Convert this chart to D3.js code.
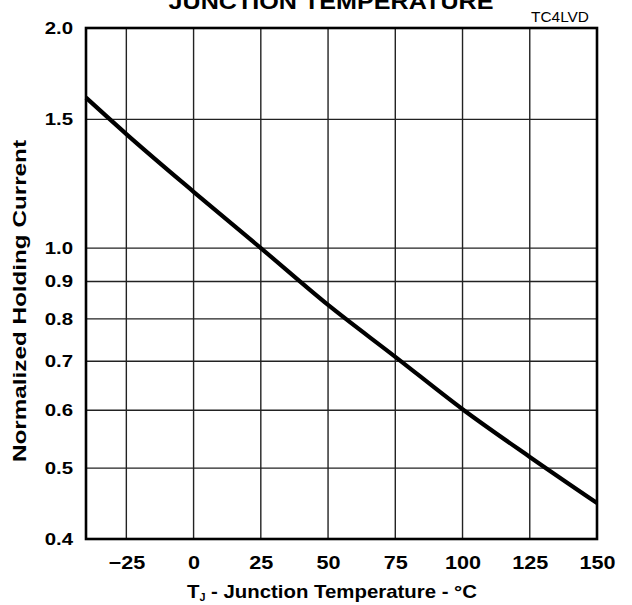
<!DOCTYPE html>
<html>
<head>
  <meta charset="utf-8">
  <title>Holding Current vs Junction Temperature</title>
  <script src="https://d3js.org/d3.v7.min.js"></script>
  <style>
    body { margin: 0; background: #fff; }
    text { font-family: "Liberation Sans", Arial, Helvetica, sans-serif; fill: #000; }
  </style>
</head>
<body>
  <svg id="chart"></svg>
  <script>

    // curve
    const temps = [-40, -25, 0, 25, 50, 75, 100, 125, 150];
    const holding = [1.606, 1.432, 1.194, 1.0, 0.836, 0.71, 0.602, 0.518, 0.448];

    // tick values
    const xTicks = [-25, 0, 25, 50, 75, 100, 125, 150];
    const yTicks = [0.4, 0.5, 0.6, 0.7, 0.8, 0.9, 1.0, 1.5, 2.0];

    const width = 632;
    const height = 605;
    const plotLeft = 86, plotRight = 597, plotTop = 28, plotBottom = 539;

    const svg = d3.select("#chart")
      .attr("width", width)
      .attr("height", height);

    const x = d3.scaleLinear().domain([-40, 150]).range([plotLeft, plotRight]);
    const y = d3.scaleLog().domain([0.4, 2.0]).range([plotBottom, plotTop]);

    // stretch text sideways, the original font is a wide one
    function widen(sel, s) {
      sel.each(function() {
        const w = this.getComputedTextLength();
        d3.select(this).attr("textLength", w * s).attr("lengthAdjust", "spacingAndGlyphs");
      });
    }

    // grid lines
    svg.append("g")
      .selectAll("line")
      .data(xTicks.filter(d => d < 150))
      .join("line")
      .attr("x1", d => x(d)).attr("x2", d => x(d))
      .attr("y1", plotTop).attr("y2", plotBottom)
      .attr("stroke", "#222").attr("stroke-width", 1.4);

    svg.append("g")
      .selectAll("line")
      .data(yTicks.filter(d => d > 0.4 && d < 2.0))
      .join("line")
      .attr("x1", plotLeft).attr("x2", plotRight)
      .attr("y1", d => y(d)).attr("y2", d => y(d))
      .attr("stroke", "#222").attr("stroke-width", 1.4);

    // the curve
    const line = d3.line()
      .x((d, i) => x(temps[i]))
      .y(d => y(d))
      .curve(d3.curveMonotoneX);

    svg.append("path")
      .datum(holding)
      .attr("d", line)
      .attr("fill", "none")
      .attr("stroke", "#000")
      .attr("stroke-width", 4.2);

    // frame
    svg.append("rect")
      .attr("x", plotLeft).attr("y", plotTop)
      .attr("width", plotRight - plotLeft).attr("height", plotBottom - plotTop)
      .attr("fill", "none")
      .attr("stroke", "#000")
      .attr("stroke-width", 2.6);

    // axes (labels only, lines are drawn above)
    const xAxis = svg.append("g")
      .attr("transform", `translate(0, ${plotBottom})`)
      .call(d3.axisBottom(x).tickValues(xTicks).tickSize(0).tickPadding(17));
    xAxis.select(".domain").remove();
    xAxis.selectAll("text")
      .attr("font-size", 18).attr("font-weight", "bold")
      .attr("font-family", "Liberation Sans, Arial, sans-serif")
      .call(widen, 1.2);

    const yAxis = svg.append("g")
      .attr("transform", `translate(${plotLeft}, 0)`)
      .call(d3.axisLeft(y).tickValues(yTicks).tickFormat(d3.format(".1f")).tickSize(0).tickPadding(13));
    yAxis.select(".domain").remove();
    yAxis.selectAll("text")
      .attr("font-size", 17).attr("font-weight", "bold")
      .attr("font-family", "Liberation Sans, Arial, sans-serif")
      .call(widen, 1.2);

    // titles
    svg.append("text")
      .attr("x", 331).attr("y", 9)
      .attr("text-anchor", "middle")
      .attr("font-size", 22).attr("font-weight", "bold")
      .attr("textLength", 325).attr("lengthAdjust", "spacingAndGlyphs")
      .text("JUNCTION TEMPERATURE");

    svg.append("text")
      .attr("x", 589).attr("y", 22)
      .attr("text-anchor", "end")
      .attr("font-size", 14)
      .text("TC4LVD")
      .call(widen, 1.1);

    const xt = svg.append("text")
      .attr("x", 332).attr("y", 598)
      .attr("text-anchor", "middle")
      .attr("font-size", 19).attr("font-weight", "bold")
      .attr("textLength", 290).attr("lengthAdjust", "spacingAndGlyphs");
    xt.append("tspan").text("T");
    xt.append("tspan").attr("font-size", 10).attr("dy", 3).text("J");
    xt.append("tspan").attr("dy", -3).text(" - Junction Temperature - °C");

    svg.append("text")
      .attr("transform", "translate(26, 301) rotate(-90)")
      .attr("text-anchor", "middle")
      .attr("font-size", 18).attr("font-weight", "bold")
      .attr("textLength", 322).attr("lengthAdjust", "spacingAndGlyphs")
      .text("Normalized Holding Current");

  </script>
</body>
</html>
